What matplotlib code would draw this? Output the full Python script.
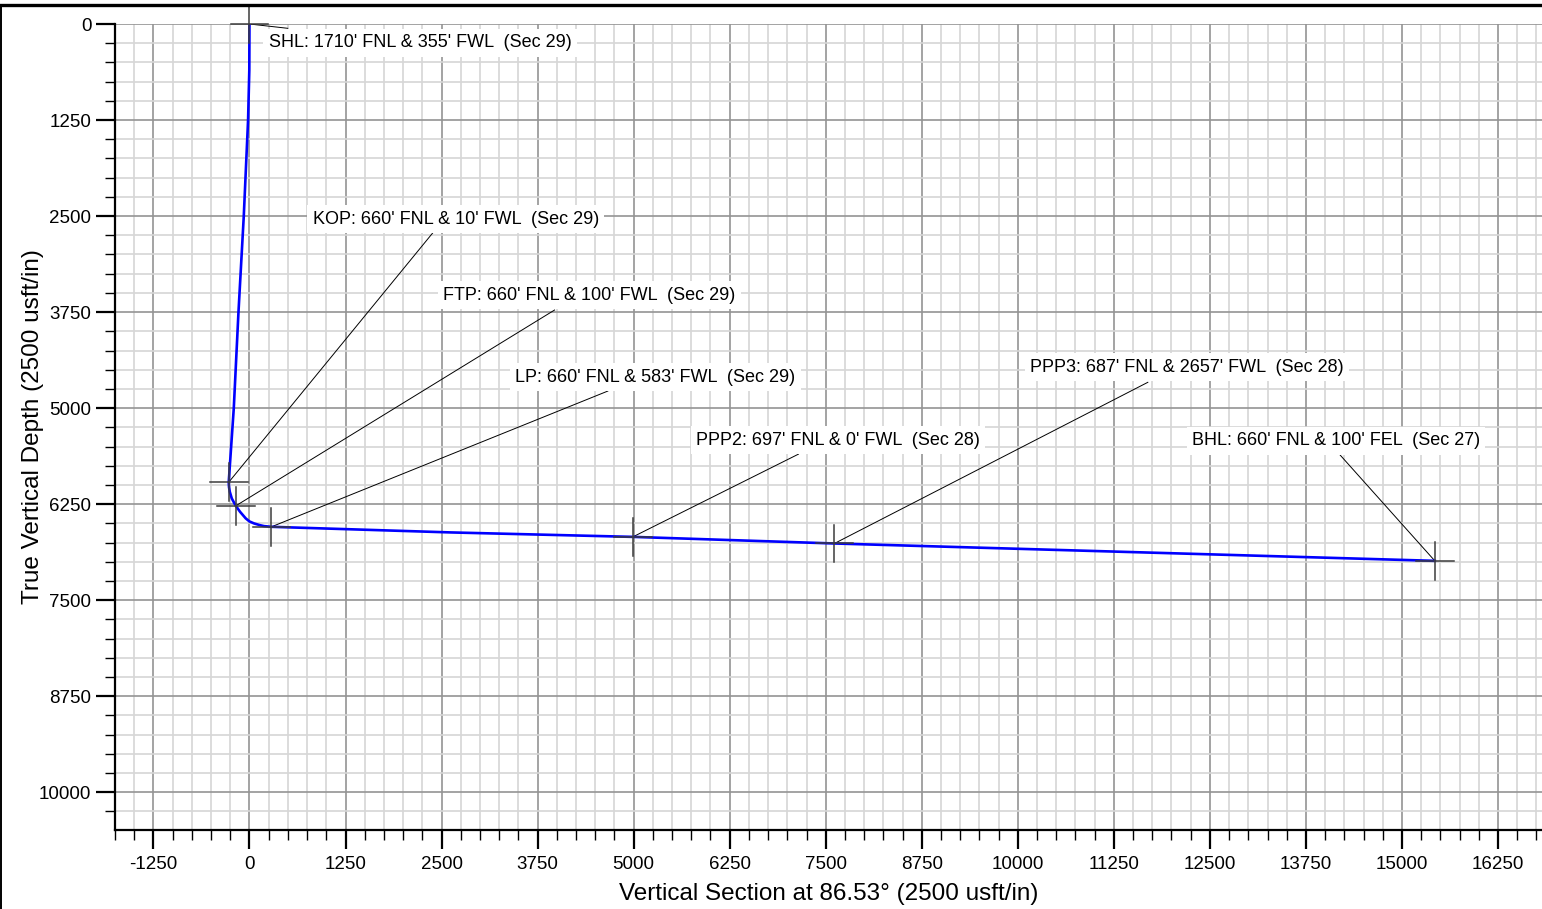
import matplotlib
matplotlib.use("Agg")
import matplotlib.pyplot as plt
from matplotlib.lines import Line2D
from matplotlib.ticker import MultipleLocator

plt.rcParams['font.family'] = ['Liberation Sans', 'DejaVu Sans']
plt.rcParams['axes.unicode_minus'] = False

# well path (vertical section, TVD) in usft
path_vs = [0, -2, -18, -74, -143, -204, -270, -266, -256, -230, -178, -122, -48, 0, 60, 130, 190, 286, 2618, 4990, 7613, 15427]
path_tvd = [0, 600, 1250, 2500, 3750, 5000, 5965, 6030, 6089, 6176, 6272, 6350, 6436, 6475, 6501, 6522, 6536, 6545, 6618, 6676, 6762, 6988]

# annotated points
pt_names = ["SHL", "KOP", "FTP", "LP", "PPP2", "PPP3", "BHL"]
pt_vs = [0, -270, -178, 286, 4990, 7613, 15427]
pt_tvd = [0, 5965, 6272, 6545, 6676, 6762, 6988]
pt_labels = [
    "SHL: 1710' FNL & 355' FWL  (Sec 29)",
    "KOP: 660' FNL & 10' FWL  (Sec 29)",
    "FTP: 660' FNL & 100' FWL  (Sec 29)",
    "LP: 660' FNL & 583' FWL  (Sec 29)",
    "PPP2: 697' FNL & 0' FWL  (Sec 28)",
    "PPP3: 687' FNL & 2657' FWL  (Sec 28)",
    "BHL: 660' FNL & 100' FEL  (Sec 27)",
]
# label text (left, middle) and leader line end
lab_vs = [251, 822, 2520, 3460, 5814, 10160, 12266]
lab_tvd = [247, 2540, 3530, 4595, 5416, 4469, 5425]
lead_vs = [498, 2384, 3971, 4664, 7145, 11692, 14196]
lead_tvd = [56, 2721, 3723, 4778, 5599, 4664, 5612]

fig = plt.figure(figsize=(15.42, 9.09), dpi=100)
ax = fig.add_axes([115 / 1542, 1 - 829.5 / 909, 1427 / 1542, 805.5 / 909])

ax.set_xlim(-1750, 16822)
ax.set_ylim(10485, 0)

ax.xaxis.set_major_locator(MultipleLocator(1250))
ax.xaxis.set_minor_locator(MultipleLocator(250))
ax.yaxis.set_major_locator(MultipleLocator(1250))
ax.yaxis.set_minor_locator(MultipleLocator(250))

ax.grid(which='minor', color='#d6d6d6', lw=1.2, zorder=0)
ax.grid(which='major', color='#949494', lw=1.2, zorder=0)
ax.set_axisbelow(True)

for s in ['top', 'right']:
    ax.spines[s].set_visible(False)
for s in ['left', 'bottom']:
    ax.spines[s].set_linewidth(1.6)

ax.tick_params(which='major', direction='out', length=14, width=1.6, labelsize=13.5)
ax.tick_params(axis='x', which='major', pad=5)
ax.tick_params(axis='y', which='major', pad=3)
ax.tick_params(which='minor', direction='out', length=7, width=1.0)

# leaders
for i in range(len(pt_names)):
    ax.plot([pt_vs[i], lead_vs[i]], [pt_tvd[i], lead_tvd[i]], color='black', lw=0.7, zorder=3)

ax.plot(path_vs, path_tvd, color='#0000ff', lw=1.9, zorder=4, solid_joinstyle='round')

# crosses
arm = 245
for i in range(len(pt_names)):
    ax.plot([pt_vs[i] - arm, pt_vs[i] + arm], [pt_tvd[i], pt_tvd[i]], color='#3c3c3c', lw=1.1, zorder=5, clip_on=False)
    ax.plot([pt_vs[i], pt_vs[i]], [pt_tvd[i] - arm, pt_tvd[i] + arm], color='#3c3c3c', lw=1.1, zorder=5, clip_on=False)

for i in range(len(pt_names)):
    ax.text(lab_vs[i], lab_tvd[i], pt_labels[i], fontsize=13, ha='left', va='center', zorder=6,
            bbox=dict(boxstyle='square,pad=0.3', fc='white', ec='none'))

ax.set_xlabel('Vertical Section at 86.53\u00b0 (2500 usft/in)', fontsize=17.5)
ax.set_ylabel('True Vertical Depth (2500 usft/in)', fontsize=17.5)
ax.xaxis.set_label_coords(0.5, -0.066)
ax.yaxis.set_label_coords(-0.05, 0.5)

# page frame
fig.add_artist(Line2D([0, 1], [1 - 4.5 / 909, 1 - 4.5 / 909], color='black', lw=2.4))
fig.add_artist(Line2D([1.2 / 1542, 1.2 / 1542], [0, 1 - 4.5 / 909], color='black', lw=1.4))

fig.savefig('out.png', dpi=100)
